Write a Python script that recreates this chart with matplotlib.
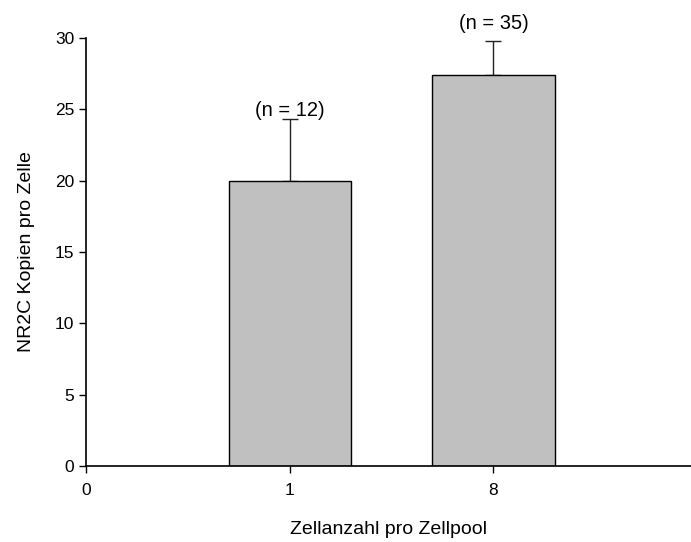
import matplotlib.pyplot as plt
import numpy as np

plt.rcParams['font.family'] = ['Liberation Sans', 'DejaVu Sans']

tick_labels = ['0', '1', '8']
means = [20.0, 27.4]
errors = [4.3, 2.4]
n_labels = ['(n = 12)', '(n = 35)']

fig = plt.figure(figsize=(6.91, 5.42), dpi=100)
ax = fig.add_axes([86 / 691, 1 - 466 / 542, 1 - 86 / 691, (466 - 38) / 542])

x = np.arange(1, len(means) + 1)
ax.bar(x, means, width=0.6, color='#c0c0c0', edgecolor='black', linewidth=1, zorder=2)
ax.errorbar(x, means, yerr=[np.zeros(len(errors)), errors], fmt='none',
            ecolor='#222222', elinewidth=1, capsize=6, capthick=1, zorder=1)

label_offsets = [0.65, 1.2]
for xi, m, e, lab, off in zip(x, means, errors, n_labels, label_offsets):
    ax.text(xi, m + e + off, lab, ha='center', va='center', fontsize=14.5)

ax.set_xlim(0, 2.97)
ax.set_ylim(0, 30)
ax.set_xticks(range(len(tick_labels)))
ax.set_xticklabels(tick_labels)
ax.set_yticks([0, 5, 10, 15, 20, 25, 30])
ax.tick_params(labelsize=12.5, length=5, width=1, direction='out')
ax.tick_params(axis='x', pad=7)

for side in ['top', 'right']:
    ax.spines[side].set_visible(False)
for side in ['left', 'bottom']:
    ax.spines[side].set_linewidth(1.2)

ax.set_xlabel('Zellanzahl pro Zellpool', fontsize=14, labelpad=17)
ax.set_ylabel('NR2C Kopien pro Zelle', fontsize=14, labelpad=14)

fig.savefig('out.png', dpi=100)
